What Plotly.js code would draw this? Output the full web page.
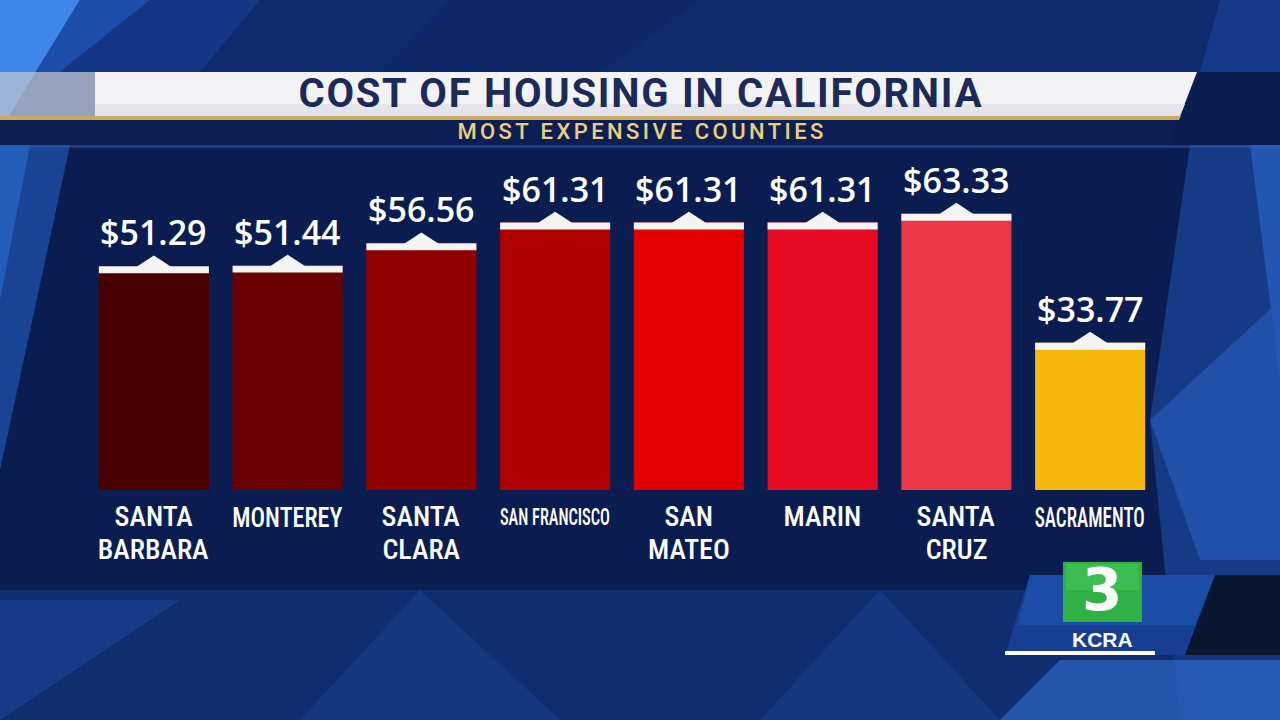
<!DOCTYPE html>
<html>
<head>
<meta charset="utf-8">
<script src="https://cdn.plot.ly/plotly-3.0.1.min.js"></script>
<style>html,body{margin:0;padding:0;background:#0c2057;}#chart{width:1280px;height:720px;}</style>
</head>
<body>
<div id="chart"></div>
<script>
// ---- data ----
const counties = ['SANTA<br>BARBARA', 'MONTEREY', 'SANTA<br>CLARA', 'SAN FRANCISCO', 'SAN<br>MATEO', 'MARIN', 'SANTA<br>CRUZ', 'SACRAMENTO'];
const costs = [51.29, 51.44, 56.56, 61.31, 61.31, 61.31, 63.33, 33.77];
const barColors = ['#4b0000', '#6b0000', '#910000', '#b00000', '#e30000', '#e60b22', '#ec3748', '#f5b70b'];
const titleText = 'COST OF HOUSING IN CALIFORNIA';
const subtitleText = 'MOST EXPENSIVE COUNTIES';

// ---- styling helpers ----
const narrowLabels = new Set(['MONTEREY', 'SAN FRANCISCO', 'SACRAMENTO']);
const L = 87, W = 1070, T = 162, H = 328;
const X = px => (px - L) / W;
const Y = py => (T + H - py) / H;
function poly(pts, fill, opacity, layer) {
  const d = pts.map((p, i) => (i ? 'L' : 'M') + X(p[0]).toFixed(5) + ',' + Y(p[1]).toFixed(5)).join(' ') + ' Z';
  return {type: 'path', xref: 'paper', yref: 'paper', path: d, fillcolor: fill, opacity: opacity == null ? 1 : opacity,
          line: {width: 0}, layer: layer || 'below'};
}

const idx = counties.map((_, i) => i);
const yMax = 75.2;
const barWidth = 0.823;
const capUnits = 1.6;     // white cap thickness in value units
const notchHalf = 0.135;  // notch half width in category units
const notchH = 2.5;       // notch height in value units

const bars = {
  type: 'bar', x: idx, y: costs, width: barWidth,
  marker: {color: barColors, line: {width: 0}},
  hoverinfo: 'skip', showlegend: false
};
const caps = {
  type: 'bar', x: idx, y: costs.map(() => capUnits), base: costs.map(v => v - capUnits), width: barWidth,
  marker: {color: '#f4f4f4', line: {width: 0}}, hoverinfo: 'skip', showlegend: false
};
const nx = [], ny = [];
costs.forEach((v, i) => {
  nx.push(i - notchHalf, i, i + notchHalf, i - notchHalf, null);
  ny.push(v - 0.2, v + notchH, v - 0.2, v - 0.2, null);
});
const notches = {
  type: 'scatter', mode: 'lines', x: nx, y: ny, fill: 'toself', fillcolor: '#f4f4f4',
  line: {width: 0, color: '#f4f4f4'}, hoverinfo: 'skip', showlegend: false, connectgaps: false
};

const annotations = [];
costs.forEach((v, i) => {
  annotations.push({
    x: i, y: v, xref: 'x', yref: 'y', text: '$' + v.toFixed(2), showarrow: false,
    yanchor: 'bottom', yshift: 9,
    font: {family: 'Open Sans, sans-serif', size: 34, color: '#ffffff', weight: 600}
  });
});
const narrowIdx = [], condIdx = [];
counties.forEach((c, i) => {
  if (narrowLabels.has(c)) {
    narrowIdx.push(annotations.length);
    annotations.push({
      x: i, y: 0, xref: 'x', yref: 'y', text: c, showarrow: false,
      yanchor: 'middle', yshift: -27,
      font: {family: 'Roboto, sans-serif', size: c.length > 10 ? 24 : 28, color: '#ffffff', weight: 500}
    });
  } else {
    c.split('<br>').forEach((line, j) => {
      condIdx.push(annotations.length);
      annotations.push({
        x: i, y: 0, xref: 'x', yref: 'y', text: line, showarrow: false,
        yanchor: 'middle', yshift: -26 - 33 * j,
        font: {family: 'Roboto, sans-serif', size: 28, color: '#ffffff', weight: 500}
      });
    });
  }
});
const subIdx = annotations.length;
annotations.push({
  x: X(640), y: Y(131), xref: 'paper', yref: 'paper', text: subtitleText, showarrow: false,
  xanchor: 'center', yanchor: 'middle',
  font: {family: 'Roboto, sans-serif', size: 22, color: '#ead07e', weight: 500}
});
annotations.push({
  x: X(1102), y: Y(590), xref: 'paper', yref: 'paper', text: '3', showarrow: false,
  xanchor: 'center', yanchor: 'middle',
  font: {family: 'DejaVu Sans, Liberation Sans, sans-serif', size: 58, color: '#ffffff', weight: 700}
});
annotations.push({
  x: X(1102), y: Y(639), xref: 'paper', yref: 'paper', text: 'KCRA', showarrow: false,
  xanchor: 'center', yanchor: 'middle',
  font: {family: 'Liberation Sans, Arial, sans-serif', size: 21, color: '#ffffff', weight: 700}
});

// condensed face (used when the installed font provides a width axis)
const css = document.createElement('style');
css.textContent = condIdx.concat(narrowIdx).map(k => '.annotation[data-index="' + k + '"] text').join(',') +
  '{font-stretch:75%;}';
document.head.appendChild(css);

const shapes = [
  // background geometry
  poly([[0,0],[1280,0],[1280,720],[0,720]], '#0b1d50', 1),
  poly([[0,0],[1280,0],[1280,72],[0,72]], '#12307a', 0.7),
  poly([[0,0],[80,0],[0,130]], '#3f86ea', 1),
  poly([[80,0],[150,0],[60,72],[0,72],[0,130]], '#1e53b5', 0.85),
  poly([[150,0],[260,0],[200,72],[60,72]], '#173f95', 0.6),
  poly([[0,145],[70,145],[0,470]], '#1d4fa8', 0.8),
  poly([[0,145],[30,145],[0,300]], '#2a66c9', 0.7),
  poly([[1220,0],[1280,0],[1280,72],[1200,72]], '#163f92', 0.8),
  poly([[1190,145],[1280,145],[1280,720],[1180,720],[1150,420]], '#1a479c', 0.7),
  poly([[1250,145],[1280,145],[1280,380]], '#2a62c2', 0.7),
  poly([[1150,420],[1280,300],[1280,560],[1200,560]], '#2558b4', 0.75),
  poly([[0,590],[1280,590],[1280,720],[0,720]], '#12347e', 0.7),
  poly([[0,600],[180,600],[0,720]], '#1a4698', 0.6),
  poly([[420,590],[560,720],[300,720]], '#18428f', 0.5),
  poly([[880,590],[1000,720],[760,720]], '#18428f', 0.5),
  poly([[1060,660],[1280,660],[1280,720],[1000,720]], '#2f68c6', 0.7),
  poly([[450,0],[700,0],[600,72],[380,72]], '#0e2766', 0.6),
  poly([[0,145],[1280,145],[1280,148],[0,148]], '#2a5bb0', 0.5),
  // title banner
  poly([[0,72],[95,72],[95,116],[0,116]], '#c5cfdf', 0.75),
  poly([[95,72],[1197,72],[1180,116],[95,116]], '#f3f3f5', 1),
  poly([[95,104],[1185,104],[1180,116],[95,116]], '#e4e4ea', 1),
  poly([[0,116],[1181,116],[1179,120],[0,120]], '#c9a862', 1),
  poly([[0,120],[1179,120],[1170,145],[0,145]], '#0d1f52', 1),
  // station logo
  poly([[1030,575],[1280,575],[1280,655],[1005,655]], '#163f93', 1),
  poly([[1215,575],[1280,575],[1280,655],[1185,655]], '#0a1530', 1),
  poly([[1030,575],[1215,575],[1195,625],[1018,625]], '#1f56b5', 0.6),
  poly([[1005,651],[1155,651],[1155,655],[1005,655]], '#ffffff', 1),
  poly([[1063,562],[1142,562],[1142,622],[1063,622]], '#2fb146', 1),
  poly([[1066,564],[1139,564],[1139,590],[1066,590]], '#45c55a', 0.6)
];

const layout = {
  width: 1280, height: 720,
  margin: {l: L, r: 1280 - L - W, t: T, b: 720 - T - H, pad: 0},
  paper_bgcolor: '#0b1d50', plot_bgcolor: 'rgba(0,0,0,0)',
  barmode: 'overlay', showlegend: false,
  title: {text: titleText, x: 0.5, xref: 'container', xanchor: 'center',
          y: 1 - 93 / 720, yref: 'container', yanchor: 'middle',
          font: {family: 'Roboto, sans-serif', size: 40, color: '#1b2a58', weight: 700}},
  xaxis: {range: [-0.5, 7.5], visible: false, fixedrange: true},
  yaxis: {range: [0, yMax], visible: false, fixedrange: true},
  shapes: shapes, annotations: annotations
};

Plotly.newPlot('chart', [bars, caps, notches], layout, {displayModeBar: false, staticPlot: true}).then(gd => {
  // condensed county names fit the bar width; title and subtitle letter-spaced across the banner
  const barPx = barWidth * W / 8;
  narrowIdx.forEach(k => {
    const t = gd.querySelector('.annotation[data-index="' + k + '"] text.annotation-text');
    if (t) { t.setAttribute('textLength', barPx.toFixed(1)); t.setAttribute('lengthAdjust', 'spacingAndGlyphs'); }
  });
  const s = gd.querySelector('.annotation[data-index="' + subIdx + '"] text.annotation-text');
  if (s) { s.setAttribute('textLength', '366'); s.setAttribute('lengthAdjust', 'spacing'); }
  const g = gd.querySelector('text.gtitle');
  if (g) { g.setAttribute('textLength', '683'); g.setAttribute('lengthAdjust', 'spacing'); }
});
</script>
</body>
</html>
